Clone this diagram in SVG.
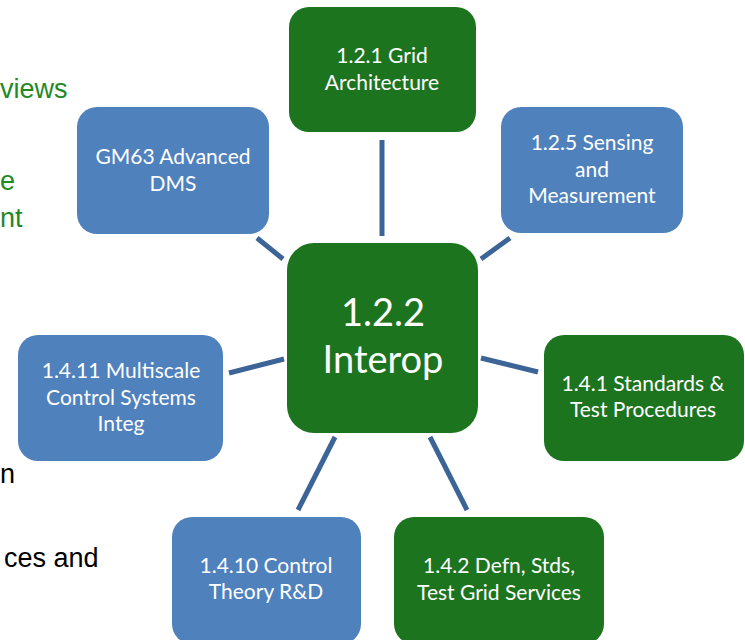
<svg xmlns="http://www.w3.org/2000/svg" width="745" height="640" viewBox="0 0 745 640">
  <style>
    .green { fill: #1D741F; }
    .blue { fill: #4F81BD; }
    .label { font-family: Lato, "Open Sans", "Liberation Sans", sans-serif; font-size: 21px; fill: #FFFFFF; text-anchor: middle; }
    .big { font-size: 38px; }
    .link { stroke: #3C6496; stroke-width: 5; fill: none; }
    .body { font-family: "Liberation Sans", Arial, sans-serif; font-size: 27px; }
    .bodyGreen { fill: #1F8A25; }
    .bodyBlack { fill: #000000; }
  </style>

  <!-- background slide text, partly covered -->
  <g id="slide-text">
    <text class="body bodyGreen" x="0" y="98">views</text>
    <text class="body bodyGreen" x="0" y="190">e</text>
    <text class="body bodyGreen" x="0" y="227">nt</text>
    <text class="body bodyBlack" x="0" y="483">n</text>
    <text class="body bodyBlack" x="4" y="567">ces and</text>
  </g>

  <!-- connectors -->
  <g id="connectors">
    <line class="link" x1="382" y1="140" x2="382" y2="236"/>
    <line class="link" x1="257" y1="238" x2="283" y2="259"/>
    <line class="link" x1="481" y1="259" x2="510" y2="238"/>
    <line class="link" x1="229" y1="373" x2="284" y2="359"/>
    <line class="link" x1="481" y1="358" x2="538" y2="372"/>
    <line class="link" x1="335" y1="437" x2="298" y2="510"/>
    <line class="link" x1="430" y1="437" x2="467" y2="510"/>
  </g>

  <g id="node-interop">
    <rect class="green" x="287" y="243" width="191" height="190" rx="27"/>
    <text class="label big" x="383" y="326">1.2.2</text>
    <text class="label big" x="383" y="373">Interop</text>
  </g>

  <g id="node-grid-arch">
    <rect class="green" x="289" y="7" width="187" height="125" rx="20"/>
    <text class="label" x="382" y="63">1.2.1 Grid</text>
    <text class="label" x="382" y="90">Architecture</text>
  </g>

  <g id="node-sensing">
    <rect class="blue" x="501" y="107" width="182" height="126" rx="20"/>
    <text class="label" x="592" y="150">1.2.5 Sensing</text>
    <text class="label" x="592" y="177">and</text>
    <text class="label" x="592" y="203">Measurement</text>
  </g>

  <g id="node-gm63">
    <rect class="blue" x="77" y="107" width="192" height="127" rx="20"/>
    <text class="label" x="173" y="164">GM63 Advanced</text>
    <text class="label" x="173" y="191">DMS</text>
  </g>

  <g id="node-multiscale">
    <rect class="blue" x="18" y="335" width="205" height="126" rx="20"/>
    <text class="label" x="121" y="378">1.4.11 Multiscale</text>
    <text class="label" x="121" y="405">Control Systems</text>
    <text class="label" x="121" y="431">Integ</text>
  </g>

  <g id="node-standards">
    <rect class="green" x="544" y="335" width="200" height="126" rx="20"/>
    <text class="label" x="643" y="391">1.4.1 Standards &amp;</text>
    <text class="label" x="643" y="417">Test Procedures</text>
  </g>

  <g id="node-control-theory">
    <rect class="blue" x="172" y="517" width="189" height="127" rx="20"/>
    <text class="label" x="266" y="573">1.4.10 Control</text>
    <text class="label" x="266" y="599">Theory R&amp;D</text>
  </g>

  <g id="node-grid-services">
    <rect class="green" x="394" y="517" width="210" height="127" rx="20"/>
    <text class="label" x="499" y="573">1.4.2 Defn, Stds,</text>
    <text class="label" x="499" y="600">Test Grid Services</text>
  </g>
</svg>
